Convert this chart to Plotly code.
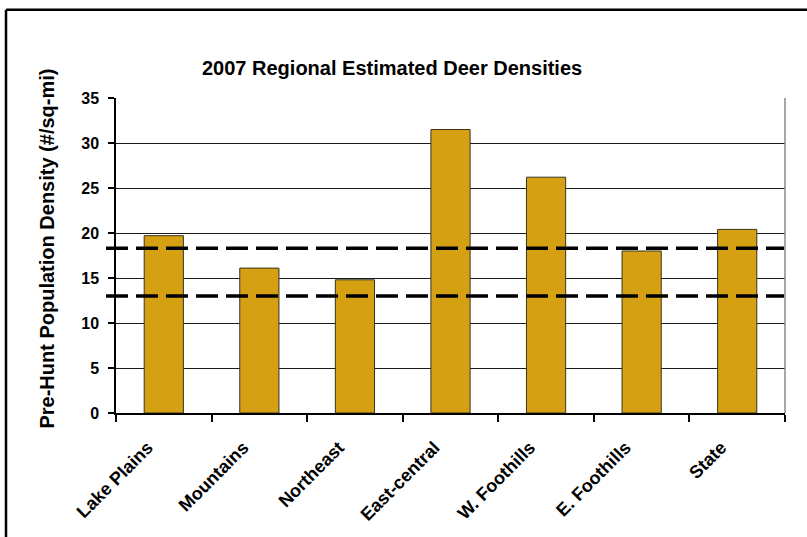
import plotly.graph_objects as go

regions = ["Lake Plains", "Mountains", "Northeast", "East-central",
           "W. Foothills", "E. Foothills", "State"]
densities = [19.7, 16.1, 14.8, 31.5, 26.2, 18.0, 20.4]
thresholds = [18.3, 13.0]
y_ticks = [0, 5, 10, 15, 20, 25, 30, 35]

title_text = "2007 Regional Estimated Deer Densities"
y_title = "Pre-Hunt Population Density (#/sq-mi)"

# layout in pixels
W, H = 807, 537
L, R, T, B = 116, 22, 98, 121
PW, PH = W - L - R, H - T - B


def px_x(p):
    return (p - L) / PW


def px_y(p):
    return (H - B - p) / PH


FONT = "Liberation Sans, Arial, sans-serif"

fig = go.Figure()
fig.add_trace(go.Bar(
    x=regions, y=densities,
    marker=dict(color="#D5A012", line=dict(color="#3a3222", width=1)),
    width=0.41,
    hoverinfo="skip",
))

shapes = []
for t in thresholds:
    shapes.append(dict(type="line", xref="paper", yref="y",
                       x0=px_x(106), x1=px_x(784), y0=t, y1=t,
                       line=dict(color="black", width=3.5, dash="22px,8px"),
                       layer="above"))
# right plot border (gray)
shapes.append(dict(type="line", xref="paper", yref="paper",
                   x0=1, x1=1, y0=0, y1=1,
                   line=dict(color="#8a8a8a", width=1.5)))
# outer frame (top and left)
shapes.append(dict(type="line", xref="paper", yref="paper",
                   x0=px_x(6), x1=px_x(820), y0=px_y(9), y1=px_y(9),
                   line=dict(color="black", width=2.5)))
shapes.append(dict(type="line", xref="paper", yref="paper",
                   x0=px_x(6), x1=px_x(6), y0=px_y(9), y1=px_y(560),
                   line=dict(color="black", width=2.5)))

fig.update_layout(
    width=W, height=H,
    margin=dict(l=L, r=R, t=T, b=B, pad=0),
    paper_bgcolor="white", plot_bgcolor="white",
    showlegend=False,
    shapes=shapes,
    font=dict(family=FONT, color="black"),
    annotations=[
        dict(text=title_text, xref="paper", yref="paper",
             x=px_x(392), y=px_y(68), xanchor="center", yanchor="middle",
             showarrow=False,
             font=dict(family=FONT, size=20, color="black", weight="bold")),
        dict(text=y_title, xref="paper", yref="paper",
             x=px_x(47), y=px_y(250), xanchor="center", yanchor="middle",
             textangle=-90, showarrow=False,
             font=dict(family=FONT, size=20, color="black", weight="bold")),
    ],
)

fig.update_xaxes(
    type="category",
    showline=True, linecolor="black", linewidth=2,
    ticks="outside", tickson="boundaries", ticklen=7, tickwidth=1.5,
    tickcolor="black", tickangle=-45,
    tickfont=dict(family=FONT, size=18, color="black", weight="bold"),
    showgrid=False,
    ticklabelshift=-16, ticklabelstandoff=15,
)
fig.update_yaxes(
    range=[0, 35], tickvals=y_ticks,
    showline=True, linecolor="black", linewidth=1.5,
    ticks="outside", ticklen=6, tickwidth=1.5, tickcolor="black",
    showgrid=True, gridcolor="#1a1a1a", gridwidth=1,
    zeroline=False,
    tickfont=dict(family=FONT, size=16, color="black", weight="bold"),
    ticklabelstandoff=6,
)

fig.write_html(
    "out.html",
    config={"displayModeBar": False},
    post_script="document.body.style.margin='0';document.body.style.padding='0';",
)
